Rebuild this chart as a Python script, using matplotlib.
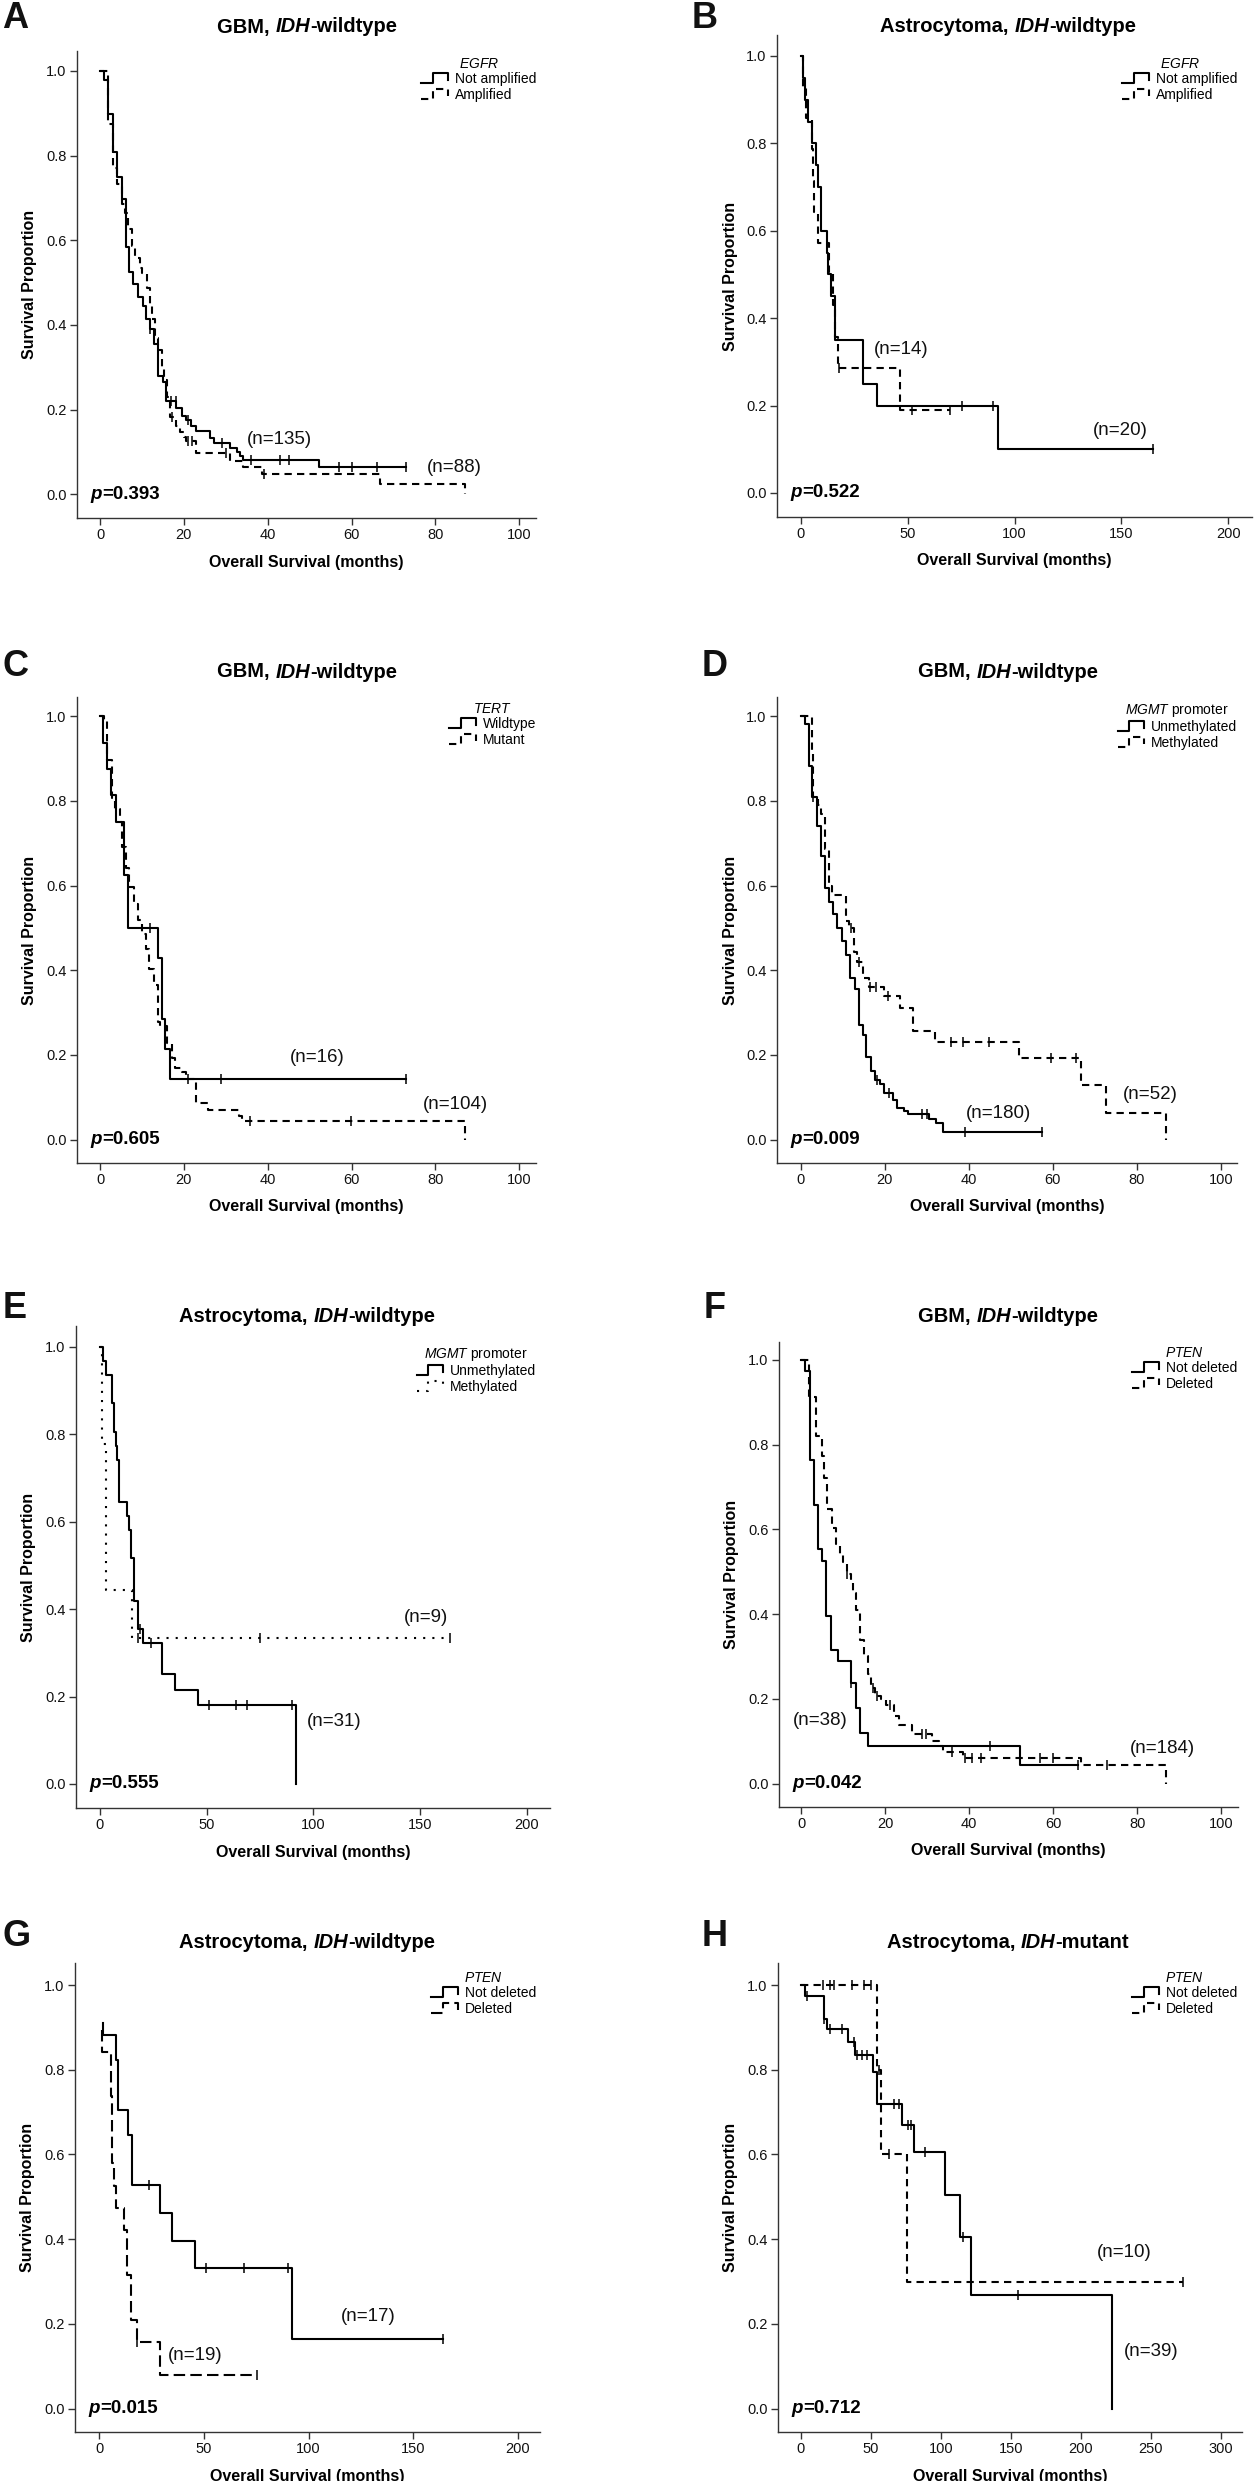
import numpy as np
import matplotlib
matplotlib.use("Agg")
import matplotlib.pyplot as plt
from matplotlib.lines import Line2D
from matplotlib.legend_handler import HandlerBase
from matplotlib.offsetbox import TextArea, HPacker, AnnotationBbox
from matplotlib.ticker import FormatStrFormatter

plt.rcParams["font.family"] = ["Liberation Sans", "DejaVu Sans"]
plt.rcParams["mathtext.fontset"] = "custom"
plt.rcParams["mathtext.rm"] = "Liberation Sans"
plt.rcParams["mathtext.it"] = "Liberation Sans:italic"
plt.rcParams["mathtext.bf"] = "Liberation Sans:bold"

W, H = 1256, 2481
DPI = 100

# ---------------- data (months, survival proportion, censor times) ----------------
# A: GBM IDH-wt, EGFR
a_notamp_t = [0, 1.0, 1.9, 3.1, 4.0, 5.2, 6.2, 7.0, 7.8, 9.0, 10.2, 11.0, 12.0, 12.9, 13.9, 14.9,
              15.7, 18.1, 19.6, 20.5, 21.8, 22.9, 26.2, 27.2, 31.1, 32.6, 33.4, 34.0, 52.2]
a_notamp_s = [1.0, 0.978, 0.898, 0.808, 0.75, 0.698, 0.584, 0.525, 0.497, 0.467, 0.445, 0.415, 0.39,
              0.355, 0.28, 0.265, 0.22, 0.204, 0.185, 0.175, 0.161, 0.149, 0.133, 0.121, 0.11, 0.10,
              0.09, 0.081, 0.065]
a_notamp_c = [12.0, 17.0, 18.0, 21.0, 29.0, 36.0, 43.0, 45.0, 57.0, 60.0, 66.0, 73.0]
a_amp_t = [0, 1.9, 3.0, 4.1, 5.2, 5.9, 6.7, 7.6, 8.3, 9.5, 10.0, 11.3, 12.0, 12.5, 13.1, 13.8, 14.8,
           15.3, 16.0, 16.7, 18.1, 19.1, 20.0, 20.5, 22.9, 31.1, 34.0, 38.7, 66.8, 87.0]
a_amp_s = [1.0, 0.875, 0.77, 0.733, 0.686, 0.665, 0.626, 0.586, 0.558, 0.535, 0.523, 0.487, 0.45,
           0.415, 0.369, 0.34, 0.30, 0.27, 0.23, 0.182, 0.161, 0.147, 0.135, 0.125, 0.097, 0.079,
           0.065, 0.048, 0.0245, 0.0]
a_amp_c = [17.2, 21.0, 22.0, 30.0, 39.0]

# B: Astrocytoma IDH-wt, EGFR
b_notamp_t = [0, 1.0, 2.0, 3.4, 5.2, 7.0, 8.2, 9.4, 12.4, 13.0, 14.3, 16.1, 29.2, 35.6, 92.5]
b_notamp_s = [1.0, 0.95, 0.9, 0.85, 0.8, 0.75, 0.7, 0.6, 0.55, 0.5, 0.45, 0.35, 0.25, 0.2, 0.1]
b_notamp_c = [75.5, 90.0, 164.8]
b_amp_t = [0, 1.0, 2.5, 5.5, 6.0, 6.3, 8.0, 13.5, 15.0, 16.0, 17.5, 46.4]
b_amp_s = [1.0, 0.929, 0.857, 0.786, 0.714, 0.643, 0.571, 0.5, 0.429, 0.357, 0.286, 0.19]
b_amp_c = [17.8, 52.0, 69.8]

# C: GBM IDH-wt, TERT
c_wt_t = [0, 0.8, 1.7, 2.7, 3.8, 5.7, 6.7, 13.8, 14.8, 15.6, 16.7]
c_wt_s = [1.0, 0.9375, 0.875, 0.8125, 0.75, 0.625, 0.5, 0.4286, 0.2857, 0.2143, 0.1429]
c_wt_c = [11.9, 28.8, 73.0]
c_mut_t = [0, 1.0, 1.7, 2.9, 3.6, 4.8, 5.2, 6.2, 7.0, 8.1, 9.1, 10.0, 11.0, 11.7, 12.9, 13.8, 14.3,
           16.0, 17.2, 17.8, 19.6, 20.5, 22.9, 25.8, 33.1, 33.9, 87.0]
c_mut_s = [1.0, 0.99, 0.897, 0.807, 0.78, 0.75, 0.692, 0.642, 0.597, 0.557, 0.519, 0.486, 0.45,
           0.404, 0.364, 0.279, 0.269, 0.229, 0.192, 0.17, 0.159, 0.144, 0.087, 0.071, 0.057,
           0.044, 0.0]
c_mut_c = [21.0, 35.8, 59.9]

# D: GBM IDH-wt, MGMT promoter
d_unmeth_t = [0, 1.0, 1.9, 2.8, 3.8, 4.9, 5.8, 6.8, 7.7, 8.7, 9.8, 10.8, 11.7, 12.9, 13.8, 14.8,
              15.6, 16.8, 17.6, 18.9, 19.8, 21.9, 22.9, 24.6, 25.5, 30.5, 32.2, 33.8]
d_unmeth_s = [1.0, 0.982, 0.883, 0.81, 0.74, 0.67, 0.595, 0.561, 0.532, 0.5, 0.468, 0.435, 0.382,
              0.355, 0.27, 0.246, 0.196, 0.162, 0.14, 0.132, 0.11, 0.094, 0.074, 0.068, 0.06,
              0.049, 0.04, 0.019]
d_unmeth_c = [18.3, 21.0, 29.0, 30.0, 39.0, 57.4]
d_meth_t = [0, 2.8, 2.9, 4.1, 4.8, 5.8, 6.8, 7.4, 10.8, 11.5, 12.7, 13.5, 14.8, 16.3, 19.8, 23.6,
            26.8, 32.0, 51.9, 66.8, 72.7, 87.0]
d_meth_s = [1.0, 0.921, 0.81, 0.789, 0.77, 0.687, 0.60, 0.578, 0.517, 0.50, 0.442, 0.42, 0.381,
            0.36, 0.34, 0.31, 0.257, 0.231, 0.192, 0.129, 0.064, 0.0]
d_meth_c = [3.0, 11.9, 13.8, 16.5, 17.9, 20.9, 35.8, 38.7, 44.8, 59.6, 65.5]

# E: Astrocytoma IDH-wt, MGMT promoter
e_unmeth_t = [0, 1.5, 3.0, 5.6, 6.4, 7.5, 8.2, 9.0, 12.7, 13.5, 14.6, 16.0, 18.0, 20.0, 29.0, 35.0,
              46.0, 92.0]
e_unmeth_s = [1.0, 0.968, 0.935, 0.871, 0.806, 0.774, 0.742, 0.645, 0.613, 0.581, 0.516, 0.419,
              0.355, 0.323, 0.252, 0.215, 0.18, 0.0]
e_unmeth_c = [19.0, 24.0, 51.0, 64.0, 69.0, 90.0]
e_meth_t = [0, 0.8, 1.0, 2.8, 2.9, 3.0, 15.0]
e_meth_s = [1.0, 0.889, 0.778, 0.667, 0.556, 0.444, 0.333]
e_meth_c = [18.0, 75.0, 164.0]

# F: GBM IDH-wt, PTEN
f_notdel_t = [0, 1.0, 2.1, 3.0, 3.9, 4.9, 5.9, 7.0, 8.8, 11.9, 13.0, 14.0, 15.9, 52.1]
f_notdel_s = [1.0, 0.974, 0.763, 0.658, 0.553, 0.526, 0.395, 0.316, 0.289, 0.237, 0.178, 0.119,
              0.089, 0.045]
f_notdel_c = [11.9, 45.0, 66.0]
f_del_t = [0, 1.9, 3.5, 5.0, 5.4, 6.1, 7.3, 8.3, 9.2, 9.9, 10.8, 11.8, 12.4, 13.0, 14.0, 15.0, 15.9,
           16.7, 17.6, 19.0, 20.2, 22.1, 23.2, 26.4, 31.1, 32.9, 33.7, 38.6, 66.7, 86.9]
f_del_s = [1.0, 0.913, 0.821, 0.774, 0.722, 0.649, 0.604, 0.566, 0.542, 0.523, 0.495, 0.48, 0.45,
           0.41, 0.34, 0.302, 0.259, 0.225, 0.208, 0.2, 0.186, 0.16, 0.139, 0.118, 0.10, 0.09,
           0.075, 0.06, 0.045, 0.0]
f_del_c = [10.8, 17.0, 18.0, 21.1, 28.8, 29.7, 35.9, 39.0, 40.7, 42.9, 56.9, 59.9, 72.9]

# G: Astrocytoma IDH-wt, PTEN
g_notdel_t = [1.9, 1.9, 8.0, 9.0, 13.8, 15.7, 29.0, 35.0, 46.0, 92.0]
g_notdel_s = [0.91, 0.882, 0.824, 0.706, 0.647, 0.529, 0.463, 0.397, 0.331, 0.165]
g_notdel_c = [23.9, 51.0, 69.0, 90.0, 164.0]
g_del_t = [1.3, 1.3, 5.5, 6.1, 7.1, 8.0, 11.8, 13.4, 15.3, 18.0, 29.0]
g_del_s = [0.895, 0.842, 0.737, 0.579, 0.526, 0.474, 0.421, 0.316, 0.21, 0.158, 0.079]
g_del_c = [18.0, 75.5]

# H: Astrocytoma IDH-mutant, PTEN
h_notdel_t = [0, 2.9, 16.6, 18.6, 33.7, 38.6, 51.4, 54.3, 72.3, 80.9, 103.0, 113.7, 121.7, 222.0]
h_notdel_s = [1.0, 0.974, 0.921, 0.896, 0.866, 0.835, 0.795, 0.72, 0.67, 0.606, 0.504, 0.406,
              0.269, 0.0]
h_notdel_c = [4.3, 16.6, 20.9, 29.4, 38.0, 40.0, 43.7, 47.0, 66.6, 70.0, 76.6, 78.9, 88.9, 116.0, 155.0]
h_del_t = [0, 54.3, 57.0, 76.0]
h_del_s = [1.0, 0.8, 0.6, 0.3]
h_del_c = [15.7, 20.9, 23.7, 36.6, 45.0, 50.0, 56.0, 62.9, 273.0]

# ---------------- styles ----------------
SOLID = "-"
DASH = (0, (3.5, 2.5))
DOT = (0, (1.0, 3.4))
LONGDASH = (0, (5.5, 2.5))
LW = 1.5


class StepHandler(HandlerBase):
    # SPSS-like little step glyph for the legend
    def create_artists(self, legend, orig_handle, xdescent, ydescent, width, height, fontsize, trans):
        x0, y0 = -xdescent, -ydescent
        xs = [x0, x0 + 0.45 * width, x0 + 0.45 * width, x0 + width, x0 + width]
        ys = [y0 + 0.1 * height, y0 + 0.1 * height, y0 + 0.95 * height, y0 + 0.95 * height,
              y0 + 0.35 * height]
        line = Line2D(xs, ys)
        line.update_from(orig_handle)
        line.set_transform(trans)
        return [line]


def km(ax, t, s, cens, ls):
    t = list(t)
    s = list(s)
    if cens and max(cens) > t[-1]:
        t.append(max(cens))
        s.append(s[-1])
    ax.step(t, s, where="post", color="black", lw=LW, ls=ls)
    idx = np.searchsorted(t, cens, side="right") - 1
    cy = [s[i] for i in idx]
    ax.plot(cens, cy, ls="none", marker="|", ms=7.5, mew=1.1, color="black")


def fx(px):
    return px / W


def fy(py):
    return 1 - py / H


panels = [
    dict(letter="A", box=(77, 51, 536, 518), xlim=(-5.5, 104), ylim=(-0.056, 1.047),
         xticks=np.arange(0, 101, 20), title_c=(307, 27), letter_xy=(2, 18),
         tumour="GBM, ", suffix="-wildtype", leg_title=r"$\mathit{EGFR}$",
         leg_xy=(536, 57), labels=["Not amplified", "Amplified"],
         curves=[(a_notamp_t, a_notamp_s, a_notamp_c, SOLID), (a_amp_t, a_amp_s, a_amp_c, DASH)],
         p="=0.393", n=[("(n=135)", 42.9, 0.13), ("(n=88)", 84.4, 0.064)]),
    dict(letter="B", box=(777, 35, 1252, 517), xlim=(-11, 211), ylim=(-0.055, 1.048),
         xticks=np.arange(0, 201, 50), title_c=(1008, 26), letter_xy=(692, 18),
         tumour="Astrocytoma, ", suffix="-wildtype", leg_title=r"$\mathit{EGFR}$",
         leg_xy=(1237, 57), labels=["Not amplified", "Amplified"],
         curves=[(b_notamp_t, b_notamp_s, b_notamp_c, SOLID), (b_amp_t, b_amp_s, b_amp_c, DASH)],
         p="=0.522", n=[("(n=14)", 47, 0.329), ("(n=20)", 149.4, 0.142)]),
    dict(letter="C", box=(77, 697, 536, 1163), xlim=(-5.5, 104), ylim=(-0.055, 1.045),
         xticks=np.arange(0, 101, 20), title_c=(307, 672), letter_xy=(2, 667),
         tumour="GBM, ", suffix="-wildtype", leg_title=r"$\mathit{TERT}$",
         leg_xy=(536, 702), labels=["Wildtype", "Mutant"],
         curves=[(c_wt_t, c_wt_s, c_wt_c, SOLID), (c_mut_t, c_mut_s, c_mut_c, DASH)],
         p="=0.605", n=[("(n=16)", 51.7, 0.195), ("(n=104)", 84.7, 0.083)]),
    dict(letter="D", box=(777, 697, 1237, 1163), xlim=(-5.6, 103.8), ylim=(-0.055, 1.045),
         xticks=np.arange(0, 101, 20), title_c=(1008, 672), letter_xy=(702, 667),
         tumour="GBM, ", suffix="-wildtype", leg_title=r"$\mathit{MGMT}$ promoter",
         leg_xy=(1237, 702), labels=["Unmethylated", "Methylated"],
         curves=[(d_unmeth_t, d_unmeth_s, d_unmeth_c, SOLID), (d_meth_t, d_meth_s, d_meth_c, DASH)],
         p="=0.009", n=[("(n=180)", 47.1, 0.061), ("(n=52)", 83.1, 0.107)]),
    dict(letter="E", box=(76, 1326, 550, 1808), xlim=(-11.2, 210.9), ylim=(-0.055, 1.048),
         xticks=np.arange(0, 201, 50), title_c=(307, 1316), letter_xy=(3, 1308),
         tumour="Astrocytoma, ", suffix="-wildtype", leg_title=r"$\mathit{MGMT}$ promoter",
         leg_xy=(536, 1346), labels=["Unmethylated", "Methylated"],
         curves=[(e_unmeth_t, e_unmeth_s, e_unmeth_c, SOLID), (e_meth_t, e_meth_s, e_meth_c, DOT)],
         p="=0.555", n=[("(n=9)", 152.6, 0.382), ("(n=31)", 109.9, 0.144)]),
    dict(letter="F", box=(779, 1342, 1238, 1807), xlim=(-5.3, 104), ylim=(-0.055, 1.042),
         xticks=np.arange(0, 101, 20), title_c=(1008, 1316), letter_xy=(704, 1308),
         tumour="GBM, ", suffix="-wildtype", leg_title=r"$\mathit{PTEN}$",
         leg_xy=(1237, 1346), labels=["Not deleted", "Deleted"],
         curves=[(f_notdel_t, f_notdel_s, f_notdel_c, SOLID), (f_del_t, f_del_s, f_del_c, DASH)],
         p="=0.042", n=[("(n=38)", 4.5, 0.148), ("(n=184)", 85.9, 0.082)]),
    dict(letter="G", box=(75, 1963, 540, 2432), xlim=(-11.5, 210.5), ylim=(-0.055, 1.052),
         xticks=np.arange(0, 201, 50), title_c=(307, 1942), letter_xy=(2, 1937),
         tumour="Astrocytoma, ", suffix="-wildtype", leg_title=r"$\mathit{PTEN}$",
         leg_xy=(536, 1971), labels=["Not deleted", "Deleted"],
         curves=[(g_notdel_t, g_notdel_s, g_notdel_c, SOLID), (g_del_t, g_del_s, g_del_c, LONGDASH)],
         p="=0.015", n=[("(n=17)", 128.7, 0.217), ("(n=19)", 45.7, 0.125)]),
    dict(letter="H", box=(778, 1963, 1242, 2432), xlim=(-16.3, 315), ylim=(-0.055, 1.052),
         xticks=np.arange(0, 301, 50), title_c=(1008, 1942), letter_xy=(702, 1937),
         tumour="Astrocytoma, ", suffix="-mutant", leg_title=r"$\mathit{PTEN}$",
         leg_xy=(1237, 1971), labels=["Not deleted", "Deleted"],
         curves=[(h_notdel_t, h_notdel_s, h_notdel_c, SOLID), (h_del_t, h_del_s, h_del_c, DASH)],
         p="=0.712", n=[("(n=10)", 230.9, 0.368), ("(n=39)", 250.3, 0.136)]),
]

fig = plt.figure(figsize=(W / DPI, H / DPI), dpi=DPI)

for pn in panels:
    l, t, r, b = pn["box"]
    ax = fig.add_axes([fx(l), fy(b), (r - l) / W, (b - t) / H])
    for spine in ("top", "right"):
        ax.spines[spine].set_visible(False)
    for spine in ("left", "bottom"):
        ax.spines[spine].set_linewidth(1.0)
        ax.spines[spine].set_color("#333333")

    handles = []
    for (ct, cs, cc, ls) in pn["curves"]:
        km(ax, ct, cs, cc, ls)
        handles.append(Line2D([], [], color="black", lw=LW, ls=ls))

    ax.set_xlim(*pn["xlim"])
    ax.set_ylim(*pn["ylim"])
    ax.set_xticks(pn["xticks"])
    ax.set_yticks(np.arange(0, 1.01, 0.2))
    ax.yaxis.set_major_formatter(FormatStrFormatter("%.1f"))
    ax.tick_params(direction="out", length=5, width=1.0, labelsize=10.5, pad=2.5,
                   color="#333333", labelcolor="#111111")

    ax.set_ylabel("Survival Proportion", fontsize=11.5, fontweight="bold", va="center")
    ax.yaxis.set_label_coords(-47 / (r - l), 0.5)
    ax.set_xlabel("Overall Survival (months)", fontsize=11.5, fontweight="bold", va="center")
    ax.xaxis.set_label_coords(0.5, -44 / (b - t))

    for txt, xv, yv in pn["n"]:
        ax.text(xv, yv, txt, fontsize=13.5, ha="center", va="center", color="#111111")

    # p value: bold italic p + bold value
    pbox = HPacker(children=[
        TextArea("p", textprops=dict(fontsize=13.5, fontweight="bold", fontstyle="italic")),
        TextArea(pn["p"], textprops=dict(fontsize=13.5, fontweight="bold"))],
        pad=0, sep=0, align="baseline")
    ax.add_artist(AnnotationBbox(pbox, (0.029, 0.0), xycoords=ax.get_yaxis_transform(),
                                 box_alignment=(0, 0.5), frameon=False, pad=0))

    ax.legend(handles=handles, labels=pn["labels"], title=pn["leg_title"],
              loc="upper right", bbox_to_anchor=(fx(pn["leg_xy"][0]), fy(pn["leg_xy"][1])),
              bbox_transform=fig.transFigure, frameon=False, fontsize=10,
              title_fontsize=10, handler_map={Line2D: StepHandler()},
              handlelength=1.9, handleheight=0.9, handletextpad=0.5,
              labelspacing=0.1, borderpad=0, borderaxespad=0)

    # panel title with italic IDH
    tbox = HPacker(children=[
        TextArea(pn["tumour"], textprops=dict(fontsize=14.5, fontweight="bold")),
        TextArea("IDH", textprops=dict(fontsize=14.5, fontweight="bold", fontstyle="italic")),
        TextArea(pn["suffix"], textprops=dict(fontsize=14.5, fontweight="bold"))],
        pad=0, sep=0, align="baseline")
    fig.add_artist(AnnotationBbox(tbox, (fx(pn["title_c"][0]), fy(pn["title_c"][1])),
                                  xycoords="figure fraction", box_alignment=(0.5, 0.5),
                                  frameon=False, pad=0))

    fig.text(fx(pn["letter_xy"][0]), fy(pn["letter_xy"][1]), pn["letter"], fontsize=26,
             fontweight="bold", ha="left", va="center", color="#111111")

fig.savefig("out.png", dpi=DPI, facecolor="white")
